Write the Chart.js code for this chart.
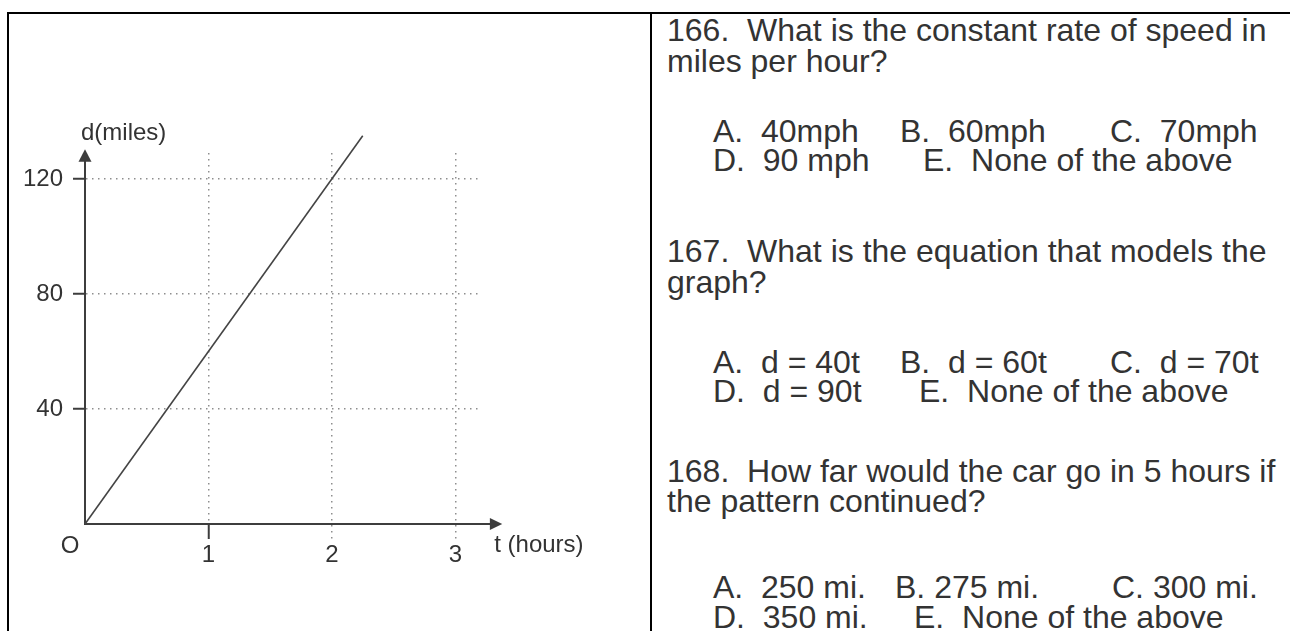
<!DOCTYPE html>
<html>
<head>
<meta charset="utf-8">
<script src="https://cdn.jsdelivr.net/npm/chart.js@4.4.1/dist/chart.umd.min.js"></script>
<style>
  html, body { margin: 0; padding: 0; background: #fff; }
  body { width: 1290px; height: 631px; position: relative; overflow: hidden;
         font-family: "Liberation Sans", Arial, sans-serif; color: #333; }
  .rule { position: absolute; background: #000; }
  #graph { position: absolute; left: 0; top: 0; }
  .q { position: absolute; font-size: 32px; line-height: 30px; white-space: pre; }
</style>
</head>
<body>
<div class="rule" style="left:7px; top:12px; width:1283px; height:2px;"></div>
<div class="rule" style="left:7px; top:12px; width:2px; height:619px;"></div>
<div class="rule" style="left:650px; top:12px; width:2px; height:619px;"></div>

<canvas id="graph" width="650" height="631"></canvas>

<div class="q" style="left:667px; top:15px;">166.  What is the constant rate of speed in</div>
<div class="q" style="left:667px; top:46px;">miles per hour?</div>
<div class="q" style="left:713px; top:116px;">A.  40mph</div>
<div class="q" style="left:900px; top:116px;">B.  60mph</div>
<div class="q" style="left:1110px; top:116px;">C.  70mph</div>
<div class="q" style="left:713px; top:145px;">D.  90 mph</div>
<div class="q" style="left:923px; top:145px;">E.  None of the above</div>

<div class="q" style="left:667px; top:236px;">167.  What is the equation that models the</div>
<div class="q" style="left:667px; top:267px;">graph?</div>
<div class="q" style="left:713px; top:347px;">A.  d = 40t</div>
<div class="q" style="left:900px; top:347px;">B.  d = 60t</div>
<div class="q" style="left:1110px; top:347px;">C.  d = 70t</div>
<div class="q" style="left:713px; top:376px;">D.  d = 90t</div>
<div class="q" style="left:919px; top:376px;">E.  None of the above</div>

<div class="q" style="left:667px; top:456px;">168.  How far would the car go in 5 hours if</div>
<div class="q" style="left:667px; top:486px;">the pattern continued?</div>
<div class="q" style="left:713px; top:572px;">A.  250 mi.</div>
<div class="q" style="left:895px; top:572px;">B. 275 mi.</div>
<div class="q" style="left:1112px; top:572px;">C. 300 mi.</div>
<div class="q" style="left:713px; top:602px;">D.  350 mi.</div>
<div class="q" style="left:914px; top:602px;">E.  None of the above</div>

<script>
// distance travelled: the straight line from the origin
const hours = [0, 2.25];
const miles = [0, 135];

// axis ticks and their labels
const hourTicks = [1, 2, 3];
const hourLabels = ['1', '2', '3'];
const mileTicks = [40, 80, 120];
const mileLabels = ['40', '80', '120'];

const ink = '#3d3d3d';
const dots = '#8e8e8e';
const labelFont = { family: '"Liberation Sans", Arial, sans-serif', size: 24 };

// arrow heads, axis names and the "O" at the origin
const axisDecor = {
  id: 'axisDecor',
  afterDraw(chart) {
    const { ctx, scales: { x, y } } = chart;
    const x0 = x.getPixelForValue(0);
    const y0 = y.getPixelForValue(0);
    const xTip = x.getPixelForValue(3.38);
    const xBase = x.getPixelForValue(3.28);
    const yTip = y.getPixelForValue(130.3);
    const yBase = y.getPixelForValue(126);

    ctx.save();
    ctx.strokeStyle = ink;
    ctx.fillStyle = ink;
    ctx.lineWidth = 2;
    ctx.beginPath();
    ctx.moveTo(x.right, y0);
    ctx.lineTo(xBase + 1, y0);
    ctx.stroke();
    ctx.beginPath();
    ctx.moveTo(xTip, y0);
    ctx.lineTo(xBase, y0 - 6);
    ctx.lineTo(xBase, y0 + 6);
    ctx.closePath();
    ctx.fill();

    ctx.beginPath();
    ctx.moveTo(x0, yTip);
    ctx.lineTo(x0 - 6.5, yBase);
    ctx.lineTo(x0 + 6.5, yBase);
    ctx.closePath();
    ctx.fill();

    ctx.fillStyle = '#333';
    ctx.font = labelFont.size + 'px ' + labelFont.family;
    ctx.textBaseline = 'middle';
    ctx.textAlign = 'center';
    ctx.fillText('O', x0 - 15, y0 + 22);
    ctx.textAlign = 'left';
    ctx.fillText('t (hours)', xTip - 8, y0 + 21);
    ctx.fillText('d(miles)', x0 - 4, yTip - 16);
    ctx.restore();
  }
};

new Chart(document.getElementById('graph'), {
  type: 'scatter',
  data: {
    datasets: [{
      data: hours.map((t, i) => ({ x: t, y: miles[i] })),
      showLine: true,
      borderColor: '#444',
      borderWidth: 1.6,
      pointRadius: 0,
      fill: false,
      clip: false
    }]
  },
  options: {
    responsive: false,
    animation: false,
    devicePixelRatio: 1,
    layout: { padding: { top: 153, right: 170, bottom: 0, left: 0 } },
    plugins: { legend: { display: false }, tooltip: { enabled: false } },
    scales: {
      x: {
        type: 'linear',
        min: 0,
        max: 3.2,
        afterBuildTicks: s => { s.ticks = hourTicks.map(v => ({ value: v })); },
        afterFit: s => { s.height = 107; },
        grid: {
          color: dots,
          lineWidth: 1.5,
          tickLength: 15,
          tickWidth: c => (c.tick && c.tick.value === 1 ? 2 : 1.5),
          tickColor: c => (c.tick && c.tick.value === 1 ? ink : dots),
          tickBorderDash: c => (c.tick && c.tick.value === 1 ? [] : [1.5, 4.5])
        },
        border: { display: true, color: ink, width: 2, dash: [1.5, 4.5] },
        ticks: {
          font: labelFont,
          color: '#333',
          padding: 2,
          maxRotation: 0,
          callback: (v, i) => hourLabels[i]
        }
      },
      y: {
        type: 'linear',
        min: 0,
        max: 129,
        afterBuildTicks: s => { s.ticks = mileTicks.map(v => ({ value: v })); },
        afterFit: s => { s.width = 85; },
        grid: {
          color: dots,
          lineWidth: 1.5,
          tickLength: 12,
          tickColor: ink,
          tickWidth: 2,
          tickBorderDash: []
        },
        border: { display: true, color: ink, width: 2, dash: [1.5, 4.5] },
        ticks: {
          font: labelFont,
          color: '#333',
          padding: 10,
          callback: (v, i) => mileLabels[i]
        }
      }
    }
  },
  plugins: [axisDecor]
});
</script>
</body>
</html>
